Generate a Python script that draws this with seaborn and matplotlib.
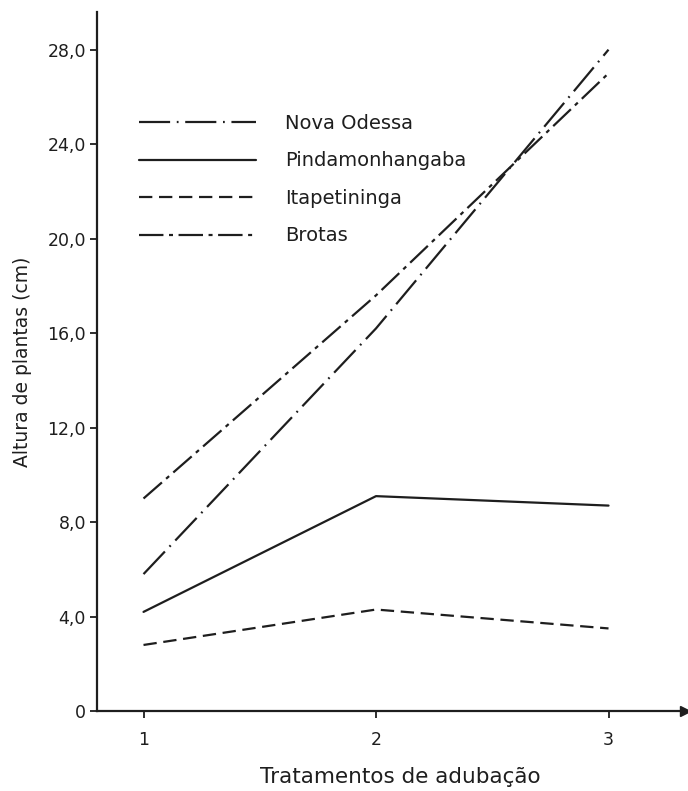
import matplotlib
matplotlib.use("Agg")
import matplotlib.pyplot as plt
import seaborn as sns
import pandas as pd

tratamentos = [1, 2, 3]
nova_odessa = [5.8, 16.2, 28.0]
pindamonhangaba = [4.2, 9.1, 8.7]
itapetininga = [2.8, 4.3, 3.5]
brotas = [9.0, 17.6, 27.0]
series_names = ["Nova Odessa", "Pindamonhangaba", "Itapetininga", "Brotas"]
y_ticks = [0, 4, 8, 12, 16, 20, 24, 28]
y_tick_labels = ["0", "4,0", "8,0", "12,0", "16,0", "20,0", "24,0", "28,0"]
x_tick_labels = ["1", "2", "3"]

rows = []
for name, vals in zip(series_names, [nova_odessa, pindamonhangaba, itapetininga, brotas]):
    for t, v in zip(tratamentos, vals):
        rows.append({"Tratamento": t, "Altura": v, "Local": name})
df = pd.DataFrame(rows)

sns.set_theme(style="white")
plt.rcParams["font.family"] = ["DejaVu Sans"]
ink = "#1e1e1e"

fig = plt.figure(figsize=(6.88, 7.91), dpi=100)
ax = fig.add_axes([0.141, 0.101, 0.855, 0.884])

dashes = {
    "Nova Odessa": (14, 3, 0.8, 3),
    "Pindamonhangaba": "",
    "Itapetininga": (6, 3),
    "Brotas": (11, 2.5, 1.8, 2.5),
}
sns.lineplot(data=df, x="Tratamento", y="Altura", hue="Local", style="Local",
             hue_order=series_names, style_order=series_names,
             palette=[ink] * 4, dashes=dashes, linewidth=1.6, ax=ax, legend="full")

handles, labels = ax.get_legend_handles_labels()
ax.legend(handles, labels, loc="upper left", bbox_to_anchor=(0.042, 0.879),
          frameon=False, handlelength=6.0, handletextpad=1.5, labelspacing=0.95,
          fontsize=14, labelcolor=ink)

ax.set_xlim(0.8, 3.33)
ax.set_ylim(0, 29.6)
ax.set_xticks(tratamentos)
ax.set_xticklabels(x_tick_labels)
ax.set_yticks(y_ticks)
ax.set_yticklabels(y_tick_labels)
ax.tick_params(axis="both", direction="out", length=5, width=1.3, colors=ink,
               labelsize=12.5, bottom=True, left=True)
ax.tick_params(axis="x", pad=9)
ax.tick_params(axis="y", pad=3)

for s in ["top", "right"]:
    ax.spines[s].set_visible(False)
for s in ["left", "bottom"]:
    ax.spines[s].set_color(ink)
    ax.spines[s].set_linewidth(1.6)

ax.plot([1], [0], marker=">", color=ink, markersize=7, transform=ax.transAxes,
        clip_on=False)

ax.set_xlabel("Tratamentos de adubação", fontsize=15.5, color=ink)
ax.set_ylabel("Altura de plantas (cm)", fontsize=13.5, color=ink)
ax.xaxis.set_label_coords(0.515, -0.08)
ax.yaxis.set_label_coords(-0.11, 0.5)

fig.savefig("out.png", dpi=100, facecolor="white")
